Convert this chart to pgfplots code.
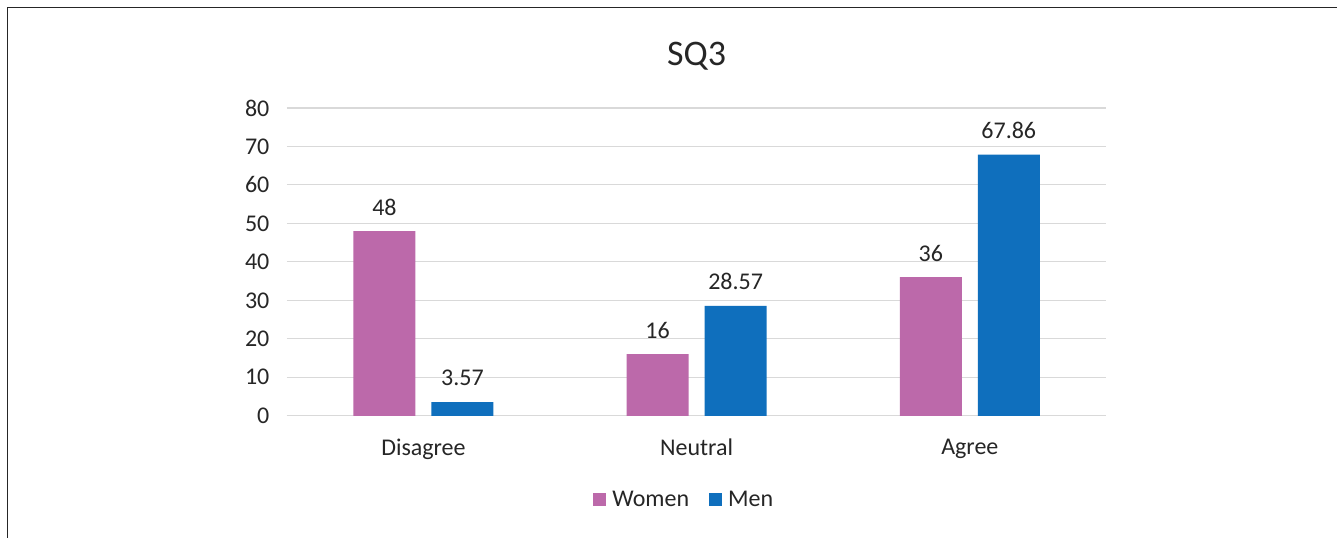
\documentclass[border=0pt]{standalone}
\usepackage{pgfplots}
\pgfplotsset{compat=1.18}
\usepackage{fontspec}
\setmainfont{Carlito}
\definecolor{women}{HTML}{BC69AA}
\definecolor{men}{HTML}{0F6FBD}
\definecolor{gridc}{HTML}{D9D9D9}
\definecolor{txt}{HTML}{262626}
\begin{document}
\begin{tikzpicture}[x=1pt,y=1pt]
  % page area and frame (left and top edges only)
  \path[fill=white] (0,0) rectangle (1338,538);
  \draw[line width=1.5pt, black!85] (7.5,0) -- (7.5,530.5) -- (1338,530.5);
  \begin{axis}[
      at={(287pt,122pt)}, anchor=south west,
      scale only axis,
      width=820pt, height=308pt,
      ybar=16pt, bar width=62pt,
      xmin=-0.5, xmax=2.5,
      ymin=0, ymax=80,
      ytick={0,10,...,80},
      xtick={0,1,2},
      xticklabels={Disagree,Neutral,Agree},
      axis x line*=bottom, axis y line*=left,
      x axis line style={draw=gridc, line width=1.2pt, -},
      y axis line style={draw=none},
      ymajorgrids, grid style={draw=gridc, line width=1.2pt},
      major tick length=0pt,
      tick label style={font=\fontsize{24}{28}\selectfont, text=txt},
      /pgf/number format/assume math mode=true,
      yticklabel style={xshift=-14pt},
      xticklabel style={yshift=-20pt},
      title={SQ3},
      title style={font=\fontsize{36}{42}\selectfont, text=txt, at={(0.5,1)}, yshift=28pt},
      nodes near coords,
      point meta=explicit symbolic,
      every node near coord/.append style={font=\fontsize{24}{28}\selectfont, text=txt, anchor=center, yshift=24pt},
      legend style={at={(0.485,-0.273)}, anchor=center, draw=none,
        legend columns=-1, font=\fontsize{24}{28}\selectfont, text=txt,
        /tikz/every even column/.append style={column sep=18pt}},
      legend image code/.code={\fill[#1] (0pt,-6.5pt) rectangle (13pt,6.5pt);},
      legend cell align=left,
    ]
    \addplot[draw=none, fill=women] coordinates {(0,48)[48] (1,16)[16] (2,36)[36]};
    \addplot[draw=none, fill=men] coordinates {(0,3.57)[3.57] (1,28.57)[28.57] (2,67.86)[67.86]};
    \legend{\hspace{4pt}Women,\hspace{4pt}Men}
  \end{axis}
\end{tikzpicture}
\end{document}
